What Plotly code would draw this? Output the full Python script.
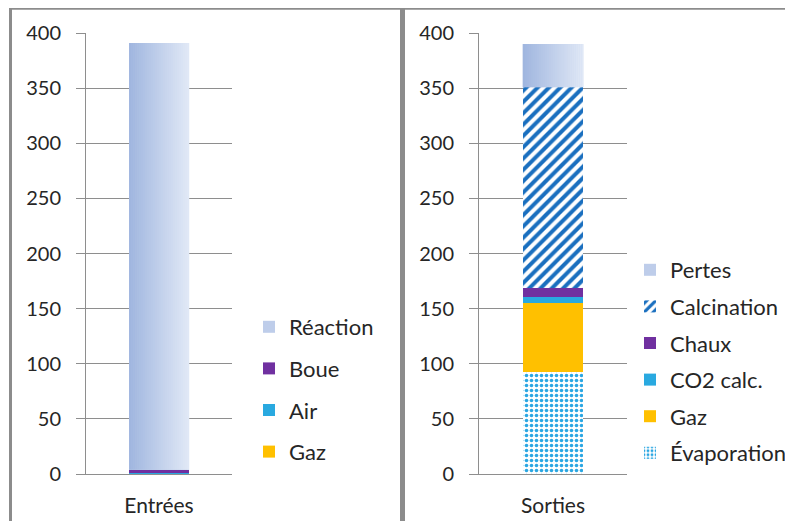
import plotly.graph_objects as go

# window 793x529, page body has an 8px margin -> figure is 777x513
FW, FH = 777, 513
OFF = 8

# ---- data ----
cat_in = ["Entrées"]
cat_out = ["Sorties"]

in_names = ["Gaz", "Air", "Boue", "Réaction"]
in_values = [0.2, 0.4, 3.2, 387.2]

out_names = ["Évaporation", "Gaz", "CO2 calc.", "Chaux", "Calcination", "Pertes"]
out_values = [92.5, 62.9, 5.4, 7.6, 182.3, 39.3]

y_ticks = [0, 50, 100, 150, 200, 250, 300, 350, 400]

# ---- styles ----
GRAD_L = (160, 182, 223)
GRAD_R = (224, 232, 246)
GRAD_MID = "rgb(190,205,234)"
styles = {
    "Gaz": dict(color="#FFC000"),
    "Air": dict(color="#29A9E0"),
    "CO2 calc.": dict(color="#29A9E0"),
    "Boue": dict(color="#7030A0"),
    "Chaux": dict(color="#7030A0"),
    "Réaction": dict(color=GRAD_MID),
    "Pertes": dict(color=GRAD_MID),
    "Calcination": dict(color="white",
                        pattern=dict(shape="/", fgcolor="#1A6FBF", bgcolor="white",
                                     size=8, solidity=0.5, fillmode="replace")),
    "Évaporation": dict(color="white",
                        pattern=dict(shape=".", fgcolor="#2AA6E2", bgcolor="white",
                                     size=5, solidity=0.4, fillmode="replace")),
}

def px(x):
    return (x - OFF) / FW

def py(y):
    return 1 - (y - OFF) / FH

BAR_W = 0.41
FONT = "Lato, 'Open Sans', sans-serif"
FS = 20
XFS = 21
LFS = 22
TXT = "#262626"

fig = go.Figure()

for i, (n, v) in enumerate(zip(in_names, in_values)):
    st = styles[n]
    fig.add_trace(go.Bar(x=cat_in, y=[v], name=n, width=BAR_W,
                         marker=dict(color=st["color"], pattern=st.get("pattern"), line=dict(width=0)),
                         xaxis="x", yaxis="y", legend="legend", legendgroup="in" + str(i),
                         legendrank=100 - i, hoverinfo="skip"))

for i, (n, v) in enumerate(zip(out_names, out_values)):
    st = styles[n]
    fig.add_trace(go.Bar(x=cat_out, y=[v], name=n, width=BAR_W,
                         marker=dict(color=st["color"], pattern=st.get("pattern"), line=dict(width=0)),
                         xaxis="x2", yaxis="y2", legend="legend2", legendgroup="out" + str(i),
                         legendrank=100 - i, hoverinfo="skip"))

# gradient overlays for the gradient-filled segments (Réaction, Pertes)
shapes = []
NSTRIP = 30
def grad_strips(xref, yref, base, top):
    out = []
    for k in range(NSTRIP):
        t = k / (NSTRIP - 1)
        c = tuple(round(GRAD_L[j] + (GRAD_R[j] - GRAD_L[j]) * t) for j in range(3))
        x0 = -BAR_W / 2 + BAR_W * k / NSTRIP
        x1 = -BAR_W / 2 + BAR_W * (k + 1) / NSTRIP
        out.append(dict(type="rect", xref=xref, yref=yref, x0=x0, x1=x1 + 0.002,
                        y0=base, y1=top, fillcolor="rgb(%d,%d,%d)" % c,
                        line=dict(width=0), layer="above"))
    return out

shapes += grad_strips("x", "y", sum(in_values[:-1]), sum(in_values))
shapes += grad_strips("x2", "y2", sum(out_values[:-1]), sum(out_values))

# panel borders
BORDER = "#8C8C8C"
shapes.append(dict(type="line", xref="paper", yref="paper", x0=px(9), x1=1.02,
                   y0=py(8.5), y1=py(8.5), line=dict(color=BORDER, width=2.5), layer="above"))
shapes.append(dict(type="line", xref="paper", yref="paper", x0=px(10.5), x1=px(10.5),
                   y0=py(8.5), y1=-0.02, line=dict(color=BORDER, width=3), layer="above"))
shapes.append(dict(type="line", xref="paper", yref="paper", x0=px(402.5), x1=px(402.5),
                   y0=py(8.5), y1=-0.02, line=dict(color=BORDER, width=5), layer="above"))
fig.update_layout(shapes=shapes)

ydom = [py(474), py(33)]
axis_common = dict(range=[0, 400], tickvals=y_ticks, showgrid=True, gridcolor="#8E8E8E",
                   gridwidth=1, showline=True, linecolor="#8E8E8E", linewidth=1,
                   ticks="outside", ticklen=9, tickcolor="#8E8E8E", ticklabelstandoff=11,
                   tickfont=dict(size=FS, color=TXT), zeroline=False, fixedrange=True)
xcommon = dict(showline=True, linecolor="#8E8E8E", linewidth=1, ticks="",
               ticklabelstandoff=13,
               tickfont=dict(size=XFS, color=TXT), range=[-0.5, 0.5], fixedrange=True)

fig.update_layout(
    width=FW, height=FH, margin=dict(l=0, r=0, t=0, b=0, autoexpand=False),
    paper_bgcolor="white", plot_bgcolor="white",
    barmode="stack", bargap=0,
    font=dict(family=FONT, size=FS, color=TXT),
    xaxis=dict(domain=[px(86), px(232)], anchor="y", **xcommon),
    yaxis=dict(domain=ydom, anchor="x", **axis_common),
    xaxis2=dict(domain=[px(479), px(627)], anchor="y2", **xcommon),
    yaxis2=dict(domain=ydom, anchor="x2", **axis_common),
    legend=dict(x=px(249), y=py(306), xanchor="left", yanchor="top",
                traceorder="grouped", tracegroupgap=10,
                font=dict(size=LFS, color=TXT), bgcolor="rgba(0,0,0,0)",
                itemclick=False),
    legend2=dict(x=px(630), y=py(249), xanchor="left", yanchor="top",
                 traceorder="grouped", tracegroupgap=5,
                 font=dict(size=LFS, color=TXT), bgcolor="rgba(0,0,0,0)",
                 itemclick=False),
    showlegend=True,
)

fig.write_html("out.html")
